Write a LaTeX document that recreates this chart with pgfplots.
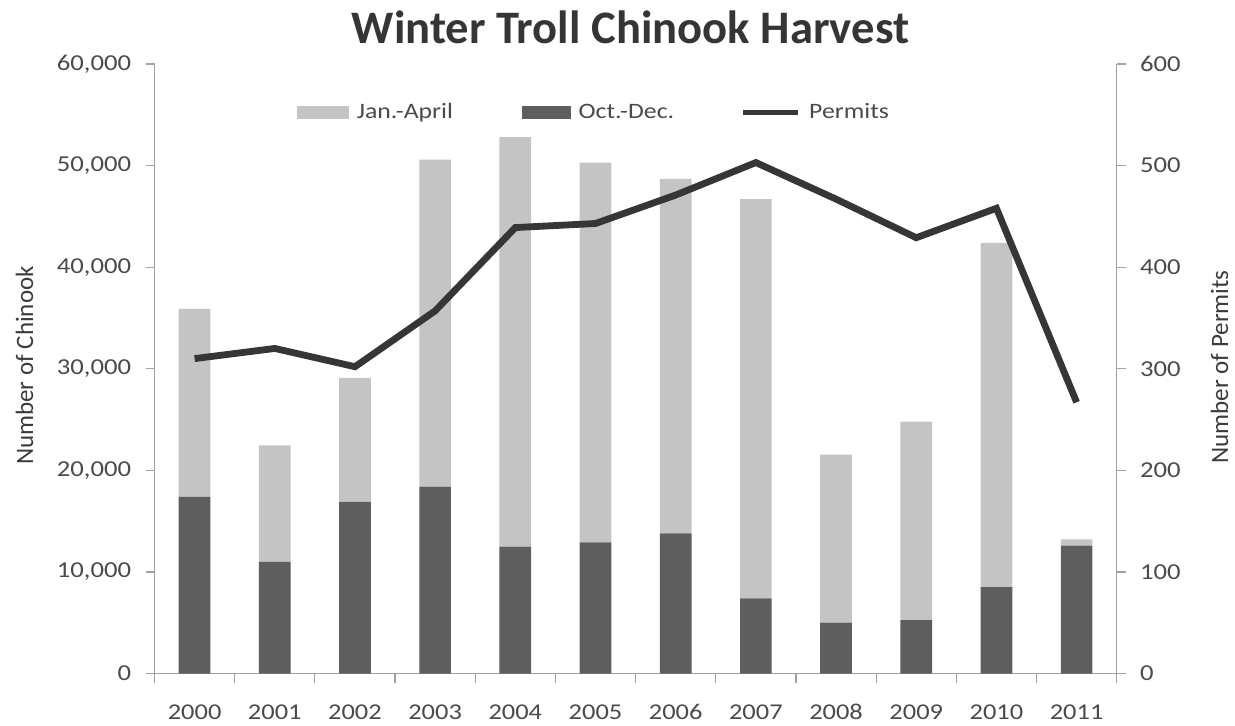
\documentclass[border=0pt]{standalone}
\usepackage{fontspec}
\setmainfont{Carlito}
\newfontfamily\widefont{Carlito}[FakeStretch=1.17]
\usepackage{pgfplots}
\usepackage{pgfplotstable}
\pgfplotsset{compat=1.18}
\definecolor{lightbar}{HTML}{C4C4C4}
\definecolor{darkbar}{HTML}{5E5E5E}
\definecolor{permline}{HTML}{363636}
\definecolor{axisgray}{HTML}{A0A0A0}
\definecolor{textgray}{HTML}{4A4A4A}
\definecolor{titlegray}{HTML}{353535}

\pgfplotstableread{
x oct jan
0 17400 18500
1 11000 11450
2 16900 12200
3 18400 32200
4 12500 40300
5 12900 37400
6 13800 34900
7 7400 39300
8 5000 16550
9 5250 19550
10 8500 33900
11 12600 600
}\harvest

\pgfplotstableread{
x permits
0 310
1 320
2 302
3 357
4 439
5 443
6 471
7 503
8 467
9 429
10 458
11 267
}\permits

\begin{document}
\begin{tikzpicture}
\useasboundingbox (0,0) rectangle (617.5pt,362.5pt);
\begin{axis}[
  at={(77.25pt,25.75pt)}, anchor=south west,
  scale only axis, width=481.1pt, height=304.75pt,
  xmin=-0.5, xmax=11.5, ymin=0, ymax=60000,
  scaled y ticks=false,
  ybar stacked, bar width=15.85pt,
  axis y line*=left, axis x line*=bottom,
  axis line style={axisgray, line width=0.6pt},
  every tick/.style={axisgray, line width=0.6pt},
  tick align=outside,
  xtick={0,...,11},
  xticklabels={2000,2001,2002,2003,2004,2005,2006,2007,2008,2009,2010,2011},
  major x tick style={draw=none},
  minor xtick={-0.5,0.5,...,11.5},
  minor tick length=4.5pt,
  major tick length=4.5pt,
  ytick={0,10000,...,60000},
  yticklabels={0,{10,000},{20,000},{30,000},{40,000},{50,000},{60,000}},
  xticklabel style={font=\widefont\fontsize{11.3}{13}\selectfont, text=textgray, inner sep=0pt,
    text height=7.2pt, text depth=0pt, anchor=north, yshift=-11pt},
  yticklabel style={font=\widefont\fontsize{11.4}{13}\selectfont, text=textgray, inner sep=0pt, xshift=-7pt},
  clip=false,
]
\addplot[fill=darkbar, draw=none] table[x=x, y=oct] {\harvest};
\addplot[fill=lightbar, draw=none] table[x=x, y=jan] {\harvest};
\end{axis}
\begin{axis}[
  at={(77.25pt,25.75pt)}, anchor=south west,
  scale only axis, width=481.1pt, height=304.75pt,
  xmin=-0.5, xmax=11.5, ymin=0, ymax=600,
  axis y line*=right, axis x line=none,
  axis line style={axisgray, line width=0.6pt},
  every tick/.style={axisgray, line width=0.6pt},
  tick align=outside, major tick length=4.5pt,
  ytick={0,100,...,600},
  yticklabels={0,100,200,300,400,500,600},
  yticklabel style={font=\widefont\fontsize{11.4}{13}\selectfont, text=textgray, inner sep=0pt, xshift=7pt},
  clip=false,
  legend style={at={(0.1481,0.9204)}, anchor=west, draw=none, fill=none,
    inner sep=0pt, outer sep=0pt, column sep=0pt,
    nodes={inner sep=0pt, anchor=west},
    font=\widefont\fontsize{11}{13}\selectfont, text=textgray,
    /tikz/every odd column/.append style={column sep=4pt}},
  legend columns=3,
]
\addlegendimage{legend image code/.code={\fill[lightbar] (0pt,-2.9pt) rectangle (25.5pt,2.9pt);}}
\addlegendentry{\makebox[82.5pt][l]{Jan.-April}}
\addlegendimage{legend image code/.code={\fill[darkbar] (0pt,-2.9pt) rectangle (24pt,2.9pt);}}
\addlegendentry{\makebox[81pt][l]{Oct.-Dec.}}
\addplot[permline, line width=3.4pt,
  legend image code/.code={\draw[permline, line width=2.8pt] (0pt,0pt) -- (27.5pt,0pt);}]
  table[x=x, y=permits] {\permits};
\addlegendentry{Permits}
\end{axis}
\node[anchor=base, font=\bfseries\fontsize{23.3}{26}\selectfont, text=titlegray] at (315.25pt,340.85pt) {Winter Troll Chinook Harvest};
\node[anchor=base, rotate=90, font=\fontsize{12.5}{14}\selectfont, text=textgray!80!black] at (16.5pt,179.75pt) {Number of Chinook};
\node[anchor=base, rotate=90, font=\fontsize{12.5}{14}\selectfont, text=textgray!80!black] at (614pt,179pt) {Number of Permits};
\end{tikzpicture}
\end{document}
